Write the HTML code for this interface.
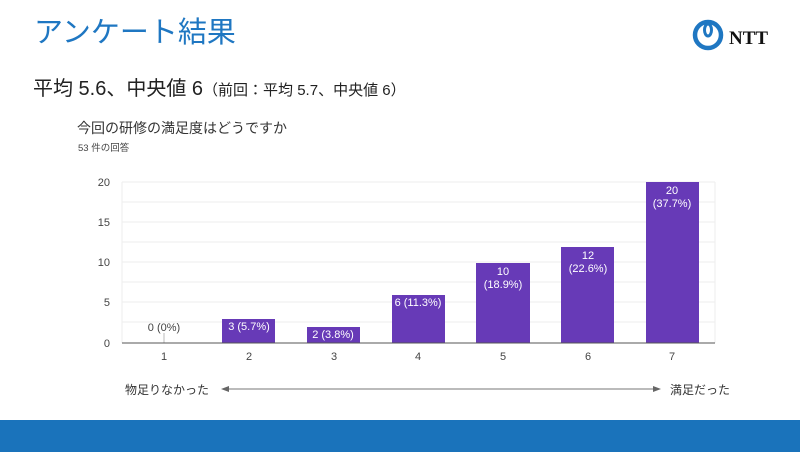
<!DOCTYPE html>
<html><head><meta charset="utf-8"><style>
html,body{margin:0;padding:0;background:#fff;}
body{width:800px;height:452px;position:relative;overflow:hidden;font-family:"Liberation Sans","Noto Sans CJK JP",sans-serif;}
</style></head><body>
<svg width="800" height="452" viewBox="0 0 800 452" xmlns="http://www.w3.org/2000/svg" style="position:absolute;left:0;top:0" font-family="Liberation Sans, Noto Sans CJK JP, sans-serif">
<text x="34" y="42" font-size="29" fill="#1f77c2">アンケート結果</text>
<circle cx="708" cy="35" r="13" fill="none" stroke="#1f77c2" stroke-width="4.5"/>
<ellipse cx="708" cy="30" rx="3.5" ry="6" fill="none" stroke="#1f77c2" stroke-width="3"/>
<text x="729" y="44" font-size="19" font-weight="bold" font-family="Liberation Serif, serif" fill="#111">NTT</text>
<text x="33" y="95" font-size="20" fill="#222">平均 5.6、中央値 6<tspan font-size="15">（前回：平均 5.7、中央値 6）</tspan></text>
<text x="77" y="133" font-size="14" fill="#333">今回の研修の満足度はどうですか</text>
<text x="78" y="151" font-size="9.5" fill="#444">53 件の回答</text>
<g stroke="#eee" stroke-width="1">
<line x1="122" x2="715" y1="182" y2="182"/><line x1="122" x2="715" y1="202" y2="202"/>
<line x1="122" x2="715" y1="222" y2="222"/><line x1="122" x2="715" y1="242" y2="242"/>
<line x1="122" x2="715" y1="262" y2="262"/><line x1="122" x2="715" y1="282" y2="282"/>
<line x1="122" x2="715" y1="302" y2="302"/><line x1="122" x2="715" y1="322" y2="322"/>
<line x1="122" x2="122" y1="182" y2="343"/><line x1="715" x2="715" y1="182" y2="343"/>
</g>
<g font-size="11" fill="#444" text-anchor="end">
<text x="110" y="186">20</text><text x="110" y="226">15</text><text x="110" y="266">10</text><text x="110" y="306">5</text><text x="110" y="347">0</text>
</g>
<g fill="#673ab7">
<rect x="222" y="319" width="53" height="24"/>
<rect x="307" y="327" width="53" height="16"/>
<rect x="392" y="295" width="53" height="48"/>
<rect x="476" y="263" width="54" height="80"/>
<rect x="561" y="247" width="53" height="96"/>
<rect x="646" y="182" width="53" height="161"/>
</g>
<line x1="164" x2="164" y1="333" y2="343" stroke="#bbb"/>
<line x1="122" x2="715" y1="343" y2="343" stroke="#555" stroke-width="1"/>
<g font-size="11" text-anchor="middle">
<text x="164" y="331" fill="#444">0 (0%)</text>
<text x="249" y="330" fill="#fff">3 (5.7%)</text>
<text x="333" y="338" fill="#fff">2 (3.8%)</text>
<text x="418" y="306" fill="#fff">6 (11.3%)</text>
<text x="503" y="275" fill="#fff">10</text><text x="503" y="288" fill="#fff">(18.9%)</text>
<text x="588" y="259" fill="#fff">12</text><text x="588" y="272" fill="#fff">(22.6%)</text>
<text x="672" y="194" fill="#fff">20</text><text x="672" y="207" fill="#fff">(37.7%)</text>
</g>
<g font-size="11" fill="#444" text-anchor="middle">
<text x="164" y="360">1</text><text x="249" y="360">2</text><text x="334" y="360">3</text><text x="418" y="360">4</text><text x="503" y="360">5</text><text x="588" y="360">6</text><text x="672" y="360">7</text>
</g>
<text x="125" y="394" font-size="12" fill="#333">物足りなかった</text>
<text x="670" y="394" font-size="12" fill="#333">満足だった</text>
<line x1="226" x2="657" y1="389" y2="389" stroke="#777" stroke-width="1"/>
<polygon points="221,389 229,386 229,392" fill="#666"/>
<polygon points="661,389 653,386 653,392" fill="#666"/>
<rect x="0" y="420" width="800" height="32" fill="#1a73bb"/>
</svg>
</body></html>
